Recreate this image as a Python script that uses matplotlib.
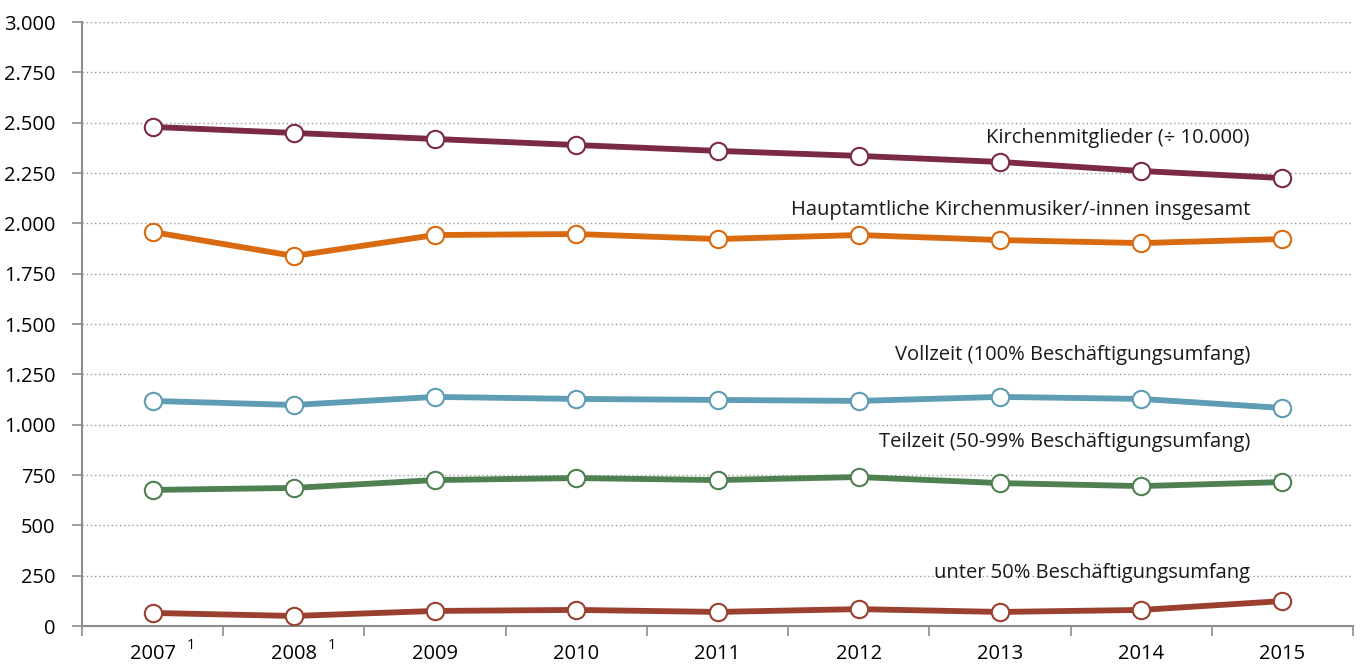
import numpy as np
import matplotlib
matplotlib.use("Agg")
import matplotlib.pyplot as plt
from matplotlib.ticker import FuncFormatter, FixedLocator

plt.rcParams['font.family'] = ['Open Sans', 'DejaVu Sans']

years = ['2007', '2008', '2009', '2010', '2011', '2012', '2013', '2014', '2015']
footnote_years = ['2007', '2008']

mitglieder = [2479, 2449, 2419, 2389, 2360, 2335, 2305, 2260, 2225]
insgesamt = [1957, 1838, 1942, 1947, 1922, 1942, 1917, 1902, 1922]
vollzeit = [1118, 1098, 1138, 1128, 1123, 1118, 1138, 1128, 1083]
teilzeit = [676, 686, 725, 735, 725, 740, 710, 695, 715]
unter50 = [65, 50, 75, 80, 70, 84, 70, 80, 124]

series = [
    (mitglieder, '#7a2946', 'Kirchenmitglieder (÷ 10.000)', 2424),
    (insgesamt, '#d96a10', 'Hauptamtliche Kirchenmusiker/-innen insgesamt', 2066),
    (vollzeit, '#5e9db4', 'Vollzeit (100% Beschäftigungsumfang)', 1346),
    (teilzeit, '#4f8051', 'Teilzeit (50-99% Beschäftigungsumfang)', 914),
    (unter50, '#9b3f2e', 'unter 50% Beschäftigungsumfang', 263),
]

fig = plt.figure(figsize=(13.62, 6.65), dpi=100)
ax = fig.add_axes([0.0602, 0.0586, 0.9332, 0.9083])

x = np.arange(len(years))
for vals, col, lab, ly in series:
    ax.plot(x, vals, color=col, lw=4.2, marker='o', ms=12.5,
            mfc='white', mec=col, mew=1.5, solid_capstyle='round', zorder=3)
    ax.text(7.77, ly, lab, ha='right', va='center', fontsize=14.5,
            color='#1a1a1a', zorder=2)

ax.set_xlim(-0.5, len(years) - 0.5)
ax.set_ylim(0, 3000)
ax.set_yticks(np.arange(0, 3001, 250))
ax.yaxis.set_major_formatter(FuncFormatter(lambda v, p: f'{int(v):,}'.replace(',', '.')))
ax.grid(axis='y', color='#999999', ls=(0, (1, 2)), lw=1.0, zorder=0)

ax.xaxis.set_major_locator(FixedLocator(np.arange(-0.5, len(years), 1.0)))
ax.set_xticklabels([])
ax.tick_params(axis='x', length=7, width=1.2, color='#8c8c8c')
ax.tick_params(axis='y', length=7, width=1.2, color='#8c8c8c', labelsize=14.5, pad=12)
for i, y in enumerate(years):
    ax.text(i, -0.047, y, transform=ax.get_xaxis_transform(), ha='center', va='center', fontsize=14.5)
    if y in footnote_years:
        ax.text(i + 0.24, -0.032, '1', transform=ax.get_xaxis_transform(), ha='left', va='center', fontsize=10.5)

for s in ['top', 'right']:
    ax.spines[s].set_visible(False)
for s in ['left', 'bottom']:
    ax.spines[s].set_color('#8c8c8c')
    ax.spines[s].set_linewidth(1.5)

fig.savefig('out.png', dpi=100)
